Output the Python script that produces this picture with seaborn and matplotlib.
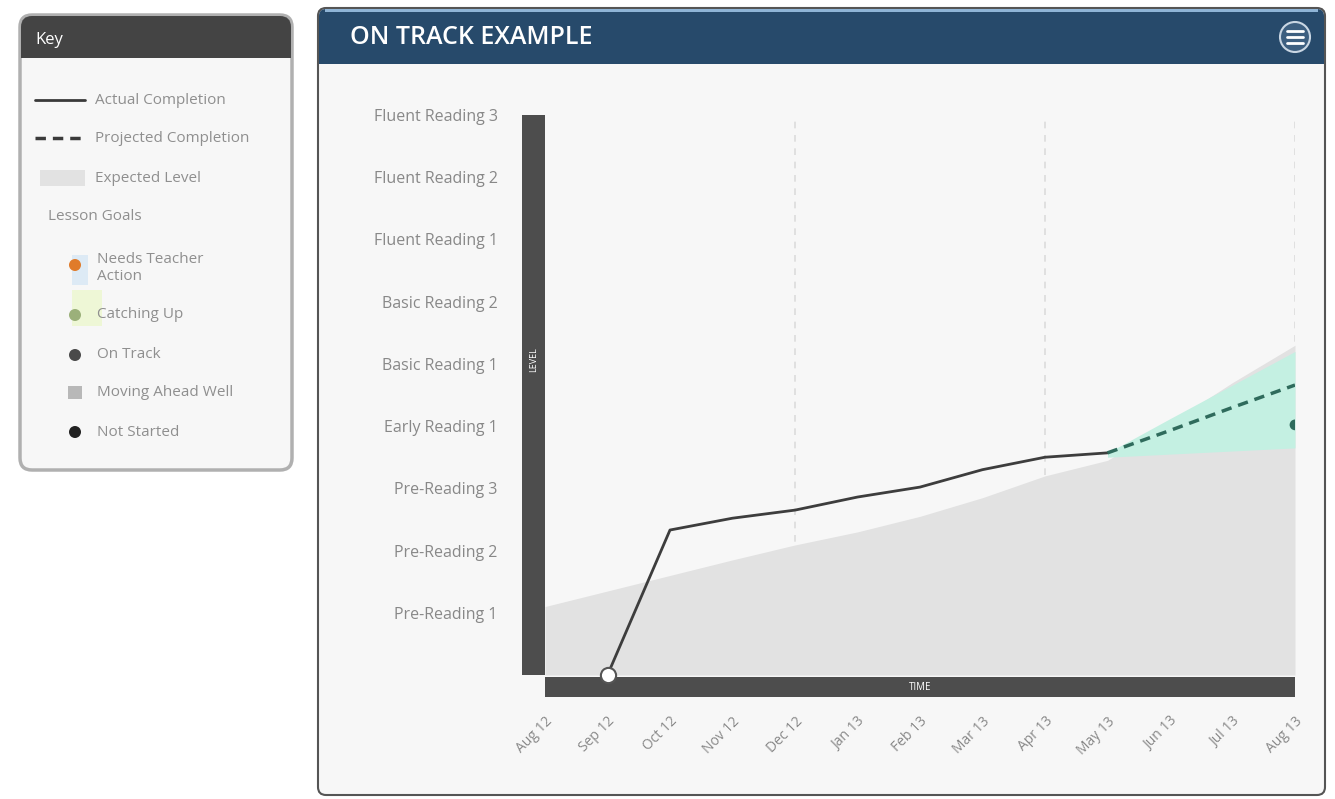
import matplotlib
matplotlib.use("Agg")
import matplotlib.pyplot as plt
from matplotlib.patches import FancyBboxPatch, Rectangle, Circle
import pandas as pd
import seaborn as sns

# chart data
months = ["Aug 12", "Sep 12", "Oct 12", "Nov 12", "Dec 12", "Jan 13", "Feb 13",
          "Mar 13", "Apr 13", "May 13", "Jun 13", "Jul 13", "Aug 13"]
level_labels = ["Pre-Reading 1", "Pre-Reading 2", "Pre-Reading 3", "Early Reading 1",
                "Basic Reading 1", "Basic Reading 2", "Fluent Reading 1",
                "Fluent Reading 2", "Fluent Reading 3"]
actual_month = [1, 2, 3, 4, 5, 6, 7, 8, 9]
actual_level = [0.0, 2.33, 2.52, 2.65, 2.86, 3.02, 3.30, 3.50, 3.57]
projected_month = [9, 10, 11, 12]
projected_level = [3.57, 3.93, 4.30, 4.66]
expected_level = [1.10, 1.35, 1.60, 1.85, 2.09, 2.30, 2.55, 2.85, 3.20, 3.45, 4.05, 4.70, 5.30]
range_low = [3.50, 3.55, 3.60, 3.65]
range_high = [3.57, 4.12, 4.66, 5.20]
latest_month = [12]
latest_level = [4.02]

key_items = ["Actual Completion", "Projected Completion", "Expected Level", "Lesson Goals",
             "Needs Teacher\nAction", "Catching Up", "On Track", "Moving Ahead Well",
             "Not Started"]

sns.set_theme(style="white")
plt.rcParams['font.family'] = ['Open Sans', 'DejaVu Sans']

W, H = 1335, 799
fig = plt.figure(figsize=(W / 100, H / 100), dpi=100)
fig.patch.set_facecolor("white")


def rect(x0, y0, x1, y1):
    return [x0 / W, 1 - y1 / H, (x1 - x0) / W, (y1 - y0) / H]


# background layer in pixel coords
bg = fig.add_axes([0, 0, 1, 1])
bg.set_xlim(0, W)
bg.set_ylim(H, 0)
bg.axis("off")

# key panel
bg.add_patch(FancyBboxPatch((20, 15), 272, 455, boxstyle="round,pad=0,rounding_size=12",
                            facecolor="#f7f7f7", edgecolor="#b0b0b0", lw=2.5))
bg.add_patch(FancyBboxPatch((21, 16), 270, 42, boxstyle="round,pad=0,rounding_size=11",
                            facecolor="#444444", edgecolor="none"))
bg.add_patch(Rectangle((21, 45), 270, 13, facecolor="#444444", edgecolor="none"))
bg.text(35, 40, "Key", color="white", fontsize=12, va="center")

# main panel
bg.add_patch(FancyBboxPatch((318, 8), 1007, 787, boxstyle="round,pad=0,rounding_size=8",
                            facecolor="#f7f7f7", edgecolor="#555555", lw=1.5))
bg.add_patch(FancyBboxPatch((319, 9), 1005, 55, boxstyle="round,pad=0,rounding_size=7",
                            facecolor="#274a6b", edgecolor="none"))
bg.add_patch(Rectangle((319, 50), 1005, 14, facecolor="#274a6b", edgecolor="none"))
bg.add_patch(Rectangle((325, 9), 993, 3, facecolor="#8fb4d6", edgecolor="none"))
bg.text(350, 38, "ON TRACK EXAMPLE", color="white", fontsize=18, fontweight="semibold",
        va="center")
bg.add_patch(Circle((1295, 37), 15, facecolor="#3d5f80", edgecolor="#c9d6e3", lw=1.5))
for dy in (-6, 0, 6):
    bg.plot([1287, 1303], [37 + dy, 37 + dy], color="white", lw=2)

# axis bars
bg.add_patch(Rectangle((522, 115), 23, 560, facecolor="#4d4d4d", edgecolor="none"))
bg.text(533.5, 360, "LEVEL", color="white", fontsize=6.5, rotation=90, ha="center", va="center")
bg.add_patch(Rectangle((545, 677), 750, 20, facecolor="#4d4d4d", edgecolor="none"))
bg.text(920, 687, "TIME", color="white", fontsize=7, ha="center", va="center")

# key entries
txt = dict(color="#8f8f8f", fontsize=11, va="center")
bg.plot([35, 85], [100, 100], color="#3a3a3a", lw=2)
bg.text(95, 100, key_items[0], **txt)
bg.plot([35, 85], [138, 138], color="#3a3a3a", lw=2.5, ls=(0, (3, 2)))
bg.text(95, 138, key_items[1], **txt)
bg.add_patch(Rectangle((40, 170), 45, 16, facecolor="#e2e2e2", edgecolor="none"))
bg.text(95, 178, key_items[2], **txt)
bg.text(48, 217, key_items[3], **txt)
bg.add_patch(Rectangle((72, 255), 16, 30, facecolor="#ddeaf5", edgecolor="none"))
bg.add_patch(Circle((75, 265), 6, facecolor="#e07b2a", edgecolor="none"))
bg.text(97, 268, key_items[4], linespacing=1.1, **txt)
bg.add_patch(Rectangle((72, 290), 30, 36, facecolor="#eef7d6", edgecolor="none"))
bg.add_patch(Circle((75, 315), 6, facecolor="#9bb07a", edgecolor="none"))
bg.text(97, 315, key_items[5], **txt)
bg.add_patch(Circle((75, 355), 6, facecolor="#4a4a4a", edgecolor="none"))
bg.text(97, 355, key_items[6], **txt)
bg.add_patch(Rectangle((68, 386), 14, 13, facecolor="#b8b8b8", edgecolor="none"))
bg.text(97, 392, key_items[7], **txt)
bg.add_patch(Circle((75, 432), 6, facecolor="#222222", edgecolor="none"))
bg.text(97, 432, key_items[8], **txt)

# main chart
ax = fig.add_axes(rect(545, 115, 1295, 675))
ax.set_facecolor("none")
all_months = list(range(len(months)))

ax.fill_between(all_months, 0, expected_level, color="#e2e2e2", lw=0, zorder=1)
ax.fill_between(projected_month, range_low, range_high, color="#c4f0e2", lw=0, zorder=2)
for gx in (4, 8, 12):
    ax.axvline(gx, color="#dcdcdc", lw=1.2, ls=(0, (4, 4)), zorder=0)

actual = pd.DataFrame({"month": actual_month, "level": actual_level})
projected = pd.DataFrame({"month": projected_month, "level": projected_level})
sns.lineplot(data=actual, x="month", y="level", ax=ax, color="#3d3d3d", lw=2, zorder=4)
sns.lineplot(data=projected, x="month", y="level", ax=ax, color="#2f6b5c", lw=2.5,
             dashes=False, zorder=4).lines[-1].set_linestyle((0, (3, 2)))
sns.scatterplot(x=latest_month, y=latest_level, ax=ax, color="#2f6b5c", s=60,
                edgecolor="none", zorder=5)
sns.scatterplot(x=[actual_month[0]], y=[actual_level[0]], ax=ax, color="white", s=120,
                edgecolor="#555555", linewidth=1.5, zorder=5, clip_on=False)

ax.set_xlim(0, 12)
ax.set_ylim(0, 9)
ax.set_xticks(all_months)
ax.set_xticklabels(months, rotation=45, ha="right", rotation_mode="anchor")
ax.set_yticks(range(1, 10))
ax.set_yticklabels(level_labels)
ax.tick_params(axis="y", length=0, pad=34, labelsize=11.5, labelcolor="#888888")
ax.tick_params(axis="x", length=0, pad=28, labelsize=10, labelcolor="#888888")
ax.set_xlabel("")
ax.set_ylabel("")
for s in ax.spines.values():
    s.set_visible(False)

fig.savefig("out.png", dpi=100, facecolor=fig.get_facecolor())
